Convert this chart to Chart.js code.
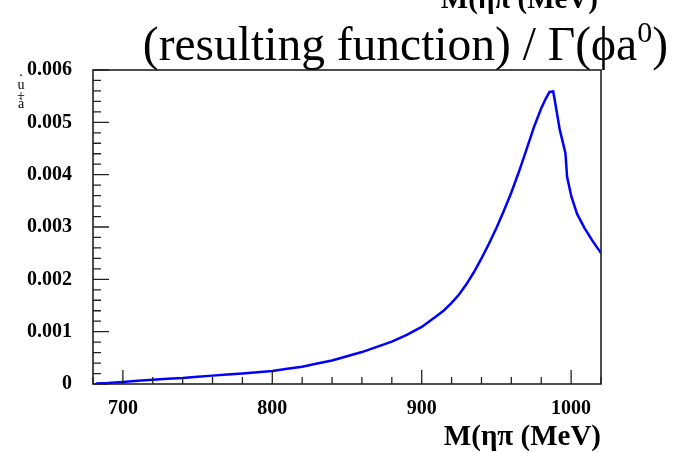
<!DOCTYPE html>
<html>
<head>
<meta charset="utf-8">
<script src="https://cdn.jsdelivr.net/npm/chart.js@4/dist/chart.umd.min.js"></script>
<style>
  body { margin: 0; background: #fff; }
  #wrap { width: 681px; height: 453px; }
</style>
</head>
<body>
<div id="wrap"><canvas id="chart"></canvas></div>
<script>
// values
const massValues = [682, 690, 700, 710, 720, 730, 740, 750, 760, 770, 780, 790, 800, 810, 820, 830, 840, 850, 860, 870, 880, 890, 900, 910, 915, 920, 925, 930, 935, 940, 945, 950, 955, 960, 965, 970, 975, 980, 983, 985.5, 988, 989, 992.4, 996.2, 997.3, 1000.2, 1004, 1009, 1014, 1020];
const rateValues = [0.00001, 0.00002, 0.00004, 0.00006, 0.00008, 0.0001, 0.000115, 0.00014, 0.00016, 0.00018, 0.0002, 0.000225, 0.00025, 0.00029, 0.00033, 0.00039, 0.00045, 0.00053, 0.00061, 0.00071, 0.00081, 0.00094, 0.00109, 0.0013, 0.00141, 0.00155, 0.00171, 0.00191, 0.00214, 0.0024, 0.00268, 0.00298, 0.00331, 0.00366, 0.00405, 0.00447, 0.0049, 0.00527, 0.00545, 0.00558, 0.00559, 0.00543, 0.00486, 0.00441, 0.00396, 0.00358, 0.00325, 0.00298, 0.00275, 0.0025];
const xTickValues = [700, 800, 900, 1000];
const yTickValues = [0, 0.001, 0.002, 0.003, 0.004, 0.005, 0.006];

const serif = '"Liberation Serif", "DejaVu Serif", serif';

// frame, inward ticks (ROOT style) and the texts
const framePlugin = {
  id: 'frame',
  afterDraw(chart) {
    const ctx = chart.ctx;
    const a = chart.chartArea;
    const xs = chart.scales.x;
    const ys = chart.scales.y;
    ctx.save();
    ctx.strokeStyle = '#222';
    ctx.lineWidth = 1.6;
    ctx.strokeRect(a.left, a.top, a.right - a.left, a.bottom - a.top);

    ctx.lineWidth = 1.3;
    ctx.beginPath();
    for (let v = 680; v <= 1020; v += 20) {
      const px = xs.getPixelForValue(v);
      const len = v % 100 === 0 ? 14 : 7;
      ctx.moveTo(px, a.bottom);
      ctx.lineTo(px, a.bottom - len);
    }
    for (let i = 0; i <= 30; i++) {
      const py = ys.getPixelForValue(i * 0.0002);
      const len = i % 5 === 0 ? 16 : 8;
      ctx.moveTo(a.left, py);
      ctx.lineTo(a.left + len, py);
    }
    ctx.stroke();

    // title
    ctx.fillStyle = '#000';
    ctx.textBaseline = 'alphabetic';
    ctx.textAlign = 'left';
    ctx.font = '47.5px ' + serif;
    const main = '(resulting function) / \u0393(\u03d5a';
    const w1 = ctx.measureText(main).width;
    const w3 = ctx.measureText(')').width;
    ctx.font = '30px ' + serif;
    const w2 = ctx.measureText('0').width;
    const x0 = 668 - (w1 + w2 + w3);
    ctx.font = '47.5px ' + serif;
    ctx.fillText(main, x0, 60);
    ctx.fillText(')', x0 + w1 + w2, 60);
    ctx.font = '30px ' + serif;
    ctx.fillText('0', x0 + w1, 42);

    // axis title, plus the copy cut off at the top edge
    ctx.font = 'bold 29px ' + serif;
    ctx.textAlign = 'right';
    ctx.fillText('M(\u03b7\u03c0 (MeV)', a.right, 445);
    ctx.fillText('M(\u03b7\u03c0 (MeV)', 598, 8);

    // garbled y title left of the top label
    ctx.font = '14px ' + serif;
    ctx.textAlign = 'center';
    ctx.textBaseline = 'middle';
    ctx.fillText('.', 21, 72);
    ctx.fillText('u', 21, 85);
    ctx.fillText('+', 21, 96);
    ctx.fillText('\u00e0', 21, 104);
    ctx.restore();
  }
};

new Chart(document.getElementById('chart'), {
  type: 'line',
  data: {
    labels: massValues,
    datasets: [{
      data: massValues.map((m, i) => ({ x: m, y: rateValues[i] })),
      borderColor: '#0000ff',
      borderWidth: 2.5,
      pointRadius: 0,
      tension: 0,
      fill: false
    }]
  },
  options: {
    responsive: true,
    maintainAspectRatio: false,
    animation: false,
    layout: { padding: { left: 0, top: 70, right: 80, bottom: 0 } },
    plugins: { legend: { display: false }, tooltip: { enabled: false } },
    scales: {
      x: {
        type: 'linear',
        min: 680,
        max: 1020,
        afterBuildTicks: s => { s.ticks = xTickValues.map(v => ({ value: v })); },
        afterFit: s => { s.height = 69; },
        grid: { display: false, drawTicks: false },
        border: { display: false },
        ticks: {
          padding: 13,
          color: '#000',
          font: { family: serif, size: 20, weight: 'bold' },
          maxRotation: 0,
          callback: v => String(v)
        }
      },
      y: {
        min: 0,
        max: 0.006,
        afterBuildTicks: s => { s.ticks = yTickValues.map(v => ({ value: v })); },
        afterFit: s => { s.width = 93; },
        grid: { display: false, drawTicks: false },
        border: { display: false },
        ticks: {
          padding: 21,
          color: '#000',
          font: { family: serif, size: 20, weight: 'bold' },
          callback: v => v === 0 ? '0' : v.toFixed(3)
        }
      }
    }
  },
  plugins: [framePlugin]
});
</script>
</body>
</html>
